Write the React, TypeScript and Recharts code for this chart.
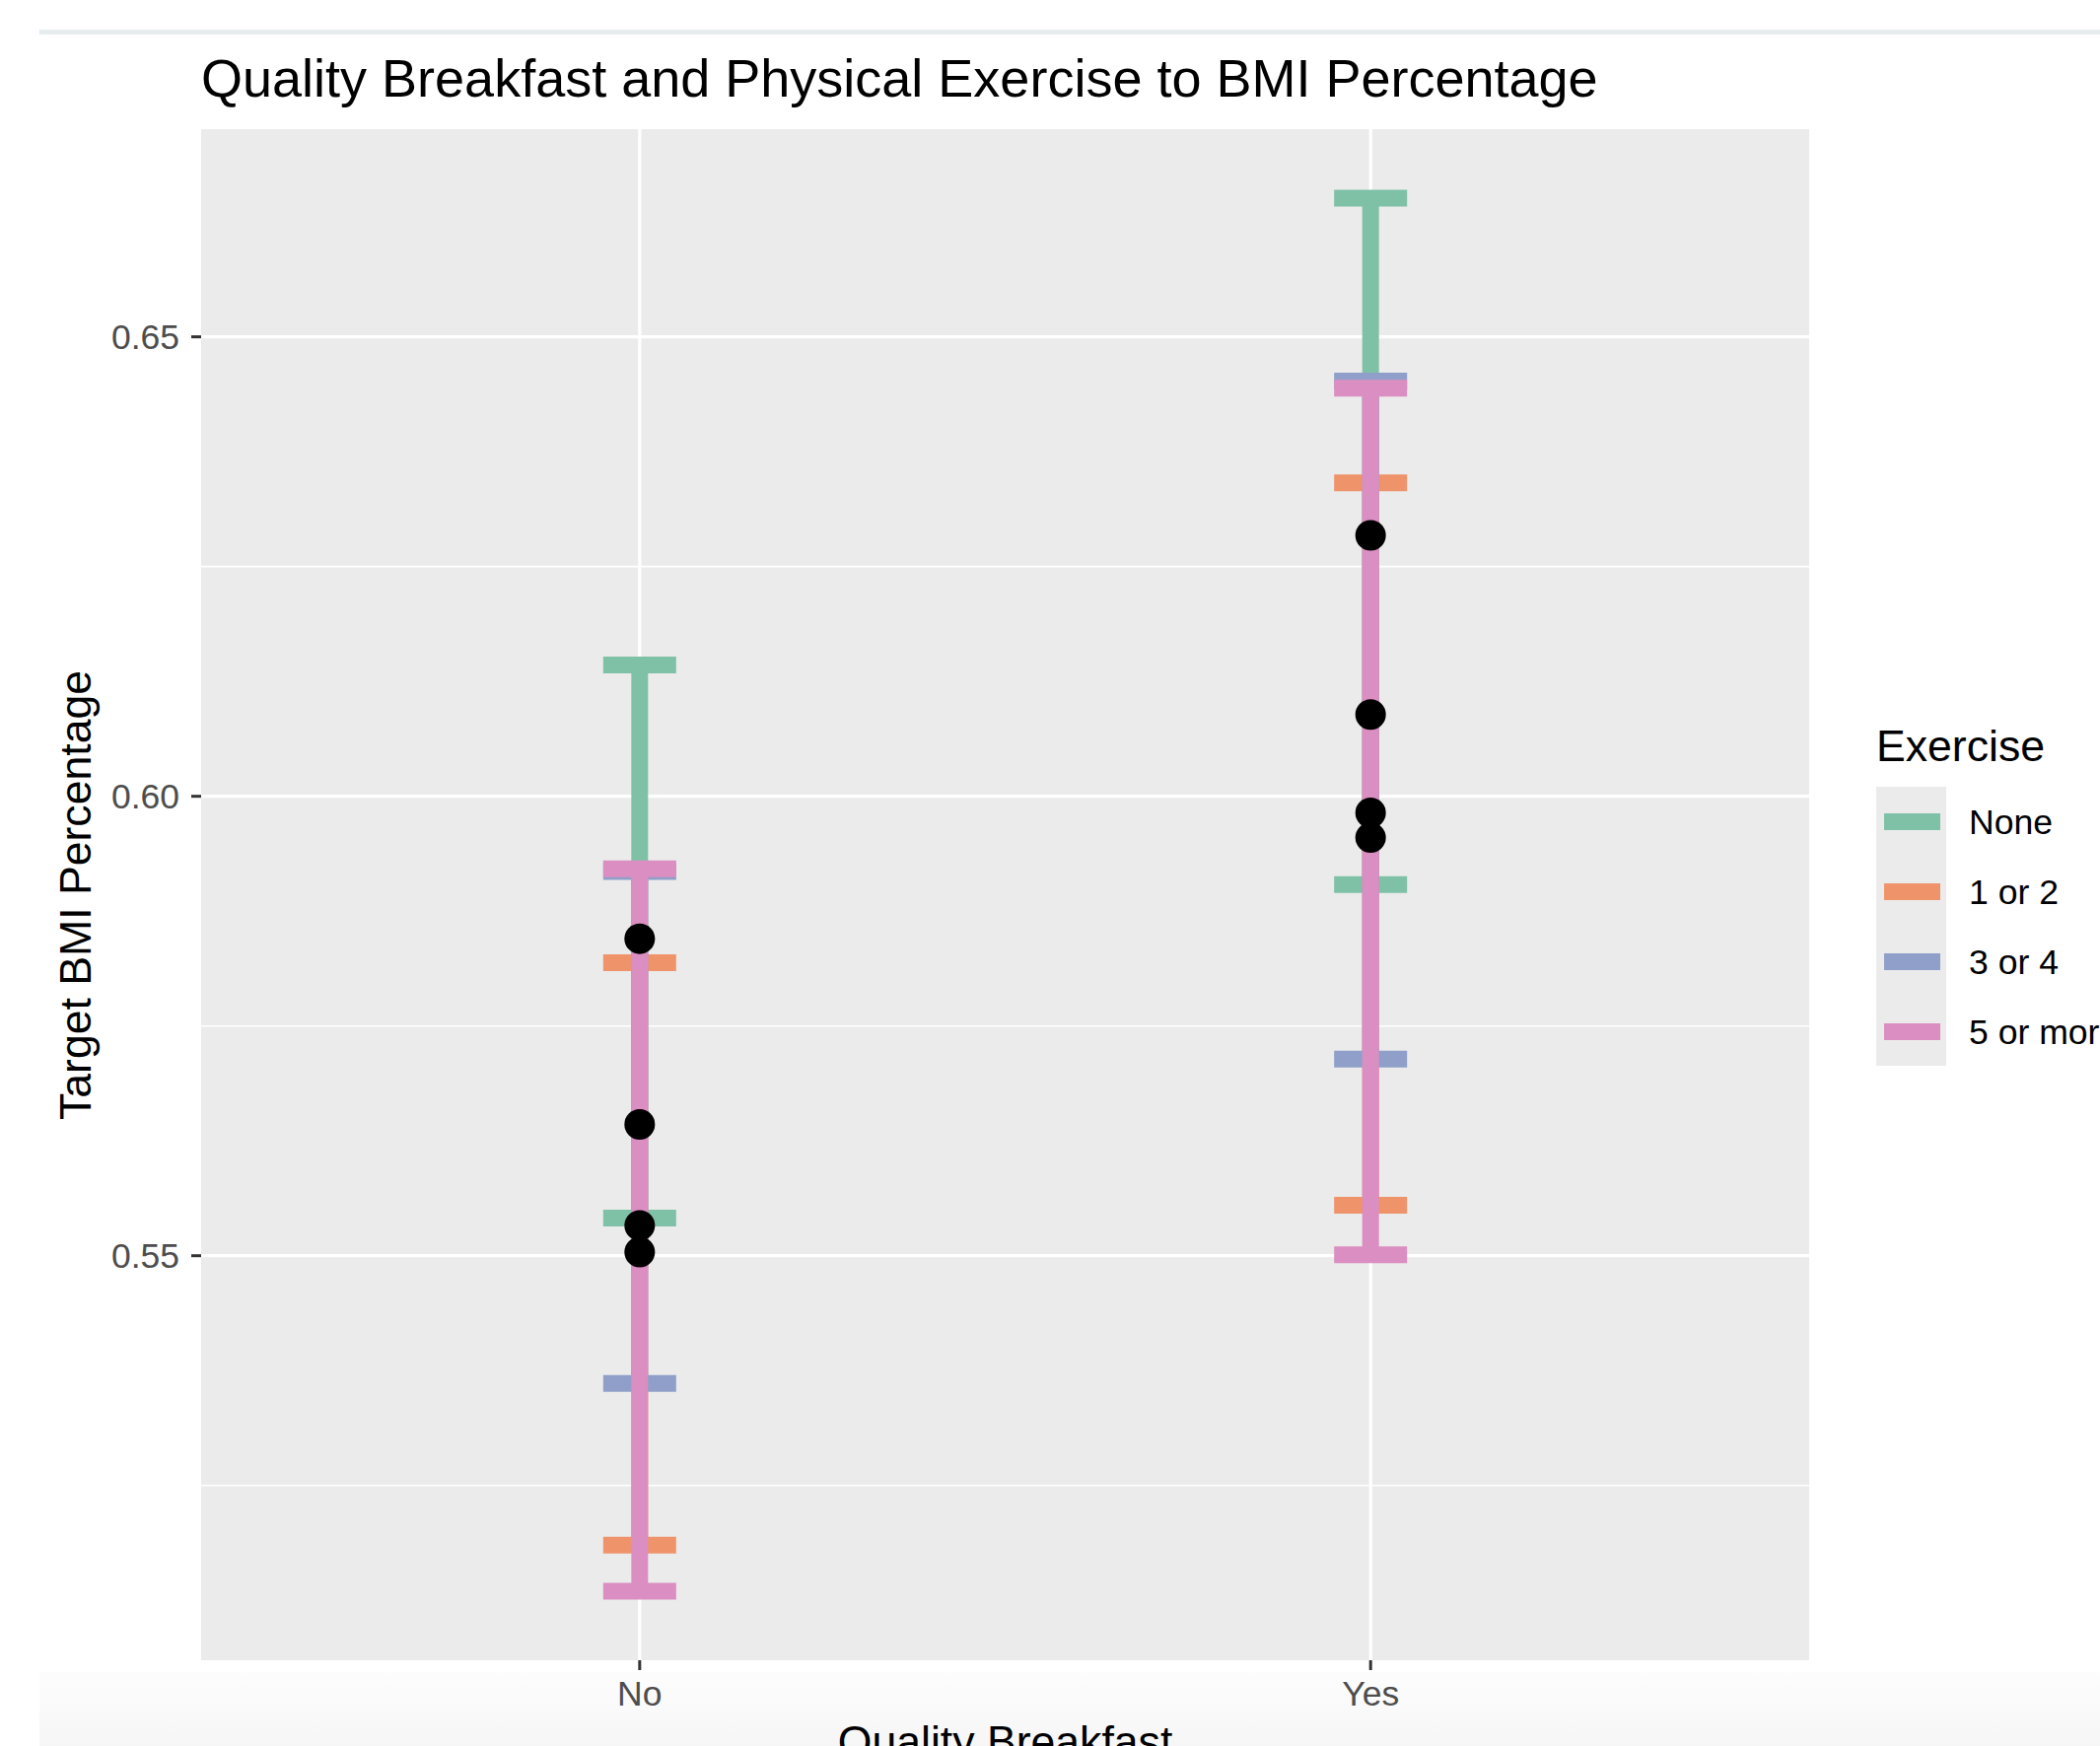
import React from 'react';
import { ComposedChart, Scatter, ErrorBar, XAxis, YAxis, CartesianGrid } from 'recharts';

// ---- data ----
const breakfastGroups = ['No', 'Yes'];
const groupPositions = [0, 1];
const exerciseLevels = ['None', '1 or 2', '3 or 4', '5 or more'];
const levelColors = ['#7fc1a6', '#ef936b', '#8f9fc9', '#db8ec1'];

// values per breakfast group [No, Yes]
const meanNone = [0.5845, 0.6284];
const lowNone = [0.5541, 0.5904];
const highNone = [0.6143, 0.6651];

const meanOneTwo = [0.5504, 0.5955];
const lowOneTwo = [0.5185, 0.5555];
const highOneTwo = [0.5819, 0.6341];

const meanThreeFour = [0.5643, 0.6089];
const lowThreeFour = [0.5361, 0.5714];
const highThreeFour = [0.5918, 0.6452];

const meanFivePlus = [0.5533, 0.5982];
const lowFivePlus = [0.5135, 0.5501];
const highFivePlus = [0.5921, 0.6444];

const yMajorTicks = [0.55, 0.6, 0.65];
const yMinorTicks = [0.525, 0.575, 0.625];
const yDomain = [0.50598, 0.6726];
const xDomain = [-0.6, 1.6];

const W = 2130;
const H = 1771;
const FONT = '"Liberation Sans", Arial, Helvetica, sans-serif';

const seriesStats = [
  [meanNone, lowNone, highNone],
  [meanOneTwo, lowOneTwo, highOneTwo],
  [meanThreeFour, lowThreeFour, highThreeFour],
  [meanFivePlus, lowFivePlus, highFivePlus],
];

export default function App() {
  const seriesData = seriesStats.map(([m, l, h]) =>
    groupPositions.map((x, i) => ({ x, y: m[i], err: [m[i] - l[i], h[i] - m[i]] }))
  );
  const pointData = seriesStats.flatMap(([m]) => groupPositions.map((x, i) => ({ x, y: m[i] })));

  return (
    <div style={{ position: 'absolute', left: 0, top: 0, width: W, height: H, background: '#ffffff', overflow: 'hidden', fontFamily: FONT }}>
      <div style={{ position: 'absolute', left: 40, top: 30, right: 0, height: 5, background: '#e7ecef' }} />
      <div style={{ position: 'absolute', left: 40, top: 1696, right: 0, bottom: 0, background: 'linear-gradient(#fdfdfd, #f6f6f6)' }} />
      <div style={{ position: 'absolute', left: 0, top: 0 }}>
        <ComposedChart width={W} height={H} margin={{ top: 131, right: 295, bottom: 0, left: 0 }}>
          <CartesianGrid
            fill="#EBEBEB"
            stroke="#FFFFFF"
            strokeWidth={1.6}
            horizontalValues={yMinorTicks}
            vertical={false}
          />
          <CartesianGrid
            stroke="#FFFFFF"
            strokeWidth={3.2}
            horizontalValues={yMajorTicks}
            verticalValues={groupPositions}
          />
          <XAxis
            type="number"
            dataKey="x"
            domain={xDomain}
            ticks={groupPositions}
            interval={0}
            allowDataOverflow
            tickFormatter={(v) => breakfastGroups[v]}
            axisLine={false}
            tickLine={{ stroke: '#333333', strokeWidth: 3 }}
            tickSize={10}
            tickMargin={11}
            height={87}
            tick={{ fill: '#4d4d4d', fontSize: 35.5, fontFamily: FONT }}
          />
          <YAxis
            type="number"
            dataKey="y"
            domain={yDomain}
            ticks={yMajorTicks}
            interval={0}
            allowDataOverflow
            tickFormatter={(v) => v.toFixed(2)}
            axisLine={false}
            tickLine={{ stroke: '#333333', strokeWidth: 3 }}
            tickSize={10}
            tickMargin={12}
            width={204}
            tick={{ fill: '#4d4d4d', fontSize: 35.5, fontFamily: FONT }}
          />
          {seriesData.map((d, k) => (
            <Scatter
              key={exerciseLevels[k]}
              name={exerciseLevels[k]}
              data={d}
              dataKey="y"
              fill={levelColors[k]}
              isAnimationActive={false}
              legendType="none"
              shape={() => <g />}
            >
              <ErrorBar
                dataKey="err"
                direction="y"
                width={37}
                strokeWidth={17}
                stroke={levelColors[k]}
                isAnimationActive={false}
              />
            </Scatter>
          ))}
          <Scatter
            name="mean"
            data={pointData}
            dataKey="y"
            fill="#000000"
            isAnimationActive={false}
            legendType="none"
            shape={(p: any) => <circle cx={p.cx} cy={p.cy} r={15.5} fill="#000000" />}
          />
        </ComposedChart>
      </div>
      <svg width={W} height={H} style={{ position: 'absolute', left: 0, top: 0, pointerEvents: 'none' }}>
        <text x={204} y={98} fontSize={54} fill="#000000" fontFamily={FONT}>
          Quality Breakfast and Physical Exercise to BMI Percentage
        </text>
        <text
          x={92}
          y={908}
          fontSize={44.6}
          fill="#000000"
          fontFamily={FONT}
          textAnchor="middle"
          transform="rotate(-90 92 908)"
        >
          Target BMI Percentage
        </text>
        <text x={1019.5} y={1782} fontSize={44.6} fill="#000000" fontFamily={FONT} textAnchor="middle">
          Quality Breakfast
        </text>
        <text x={1903} y={772} fontSize={44.6} fill="#000000" fontFamily={FONT}>
          Exercise
        </text>
        <rect x={1903} y={798} width={71} height={283} fill="#EBEBEB" />
        {exerciseLevels.map((lab, i) => (
          <g key={lab}>
            <line x1={1911} x2={1968} y1={833.5 + 71 * i} y2={833.5 + 71 * i} stroke={levelColors[i]} strokeWidth={17} />
            <text x={1997} y={846 + 71 * i} fontSize={35.6} fill="#000000" fontFamily={FONT}>
              {lab}
            </text>
          </g>
        ))}
      </svg>
    </div>
  );
}
